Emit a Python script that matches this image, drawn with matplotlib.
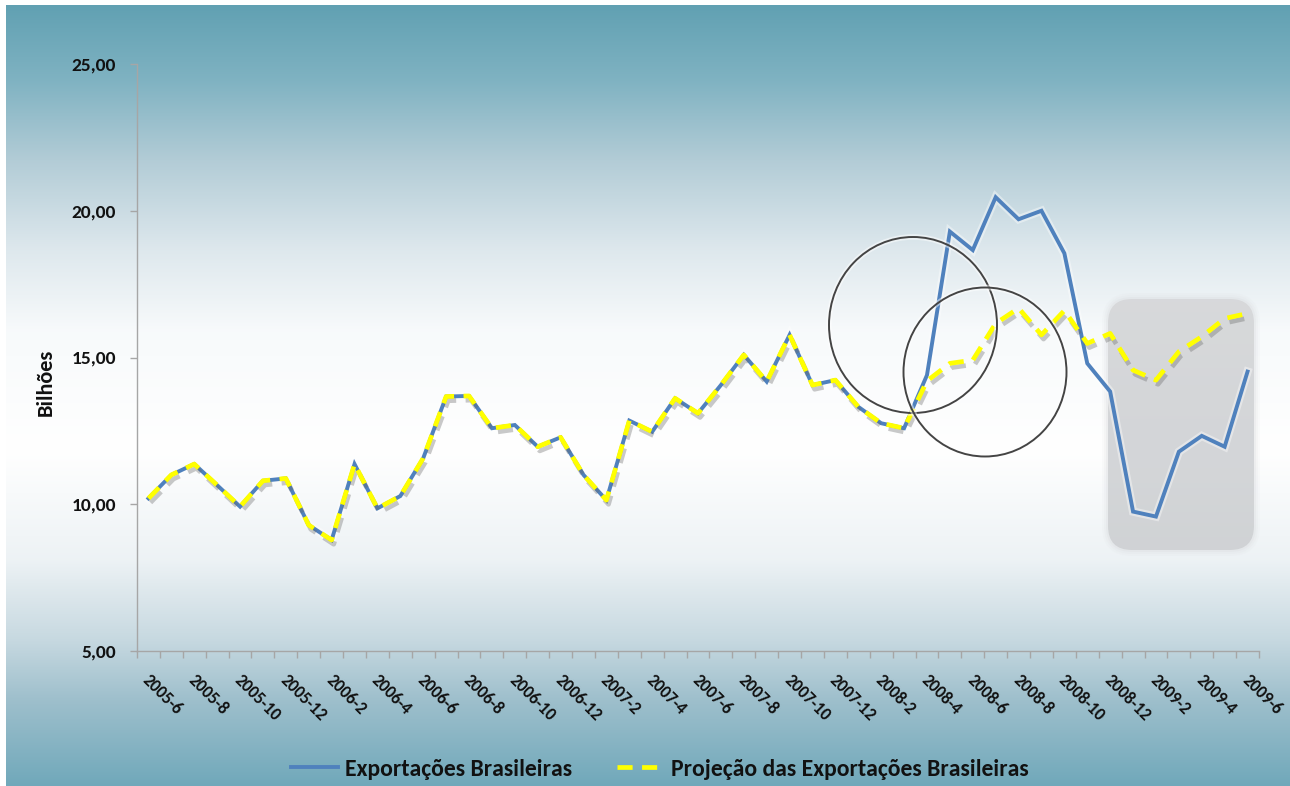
import numpy as np
import matplotlib
matplotlib.use("Agg")
import matplotlib.pyplot as plt
import matplotlib.patheffects as pe
from matplotlib.patches import FancyBboxPatch, Ellipse
from matplotlib.transforms import ScaledTranslation

# ---------------- data ----------------
tick_labels = ["2005-6", "2005-8", "2005-10", "2005-12", "2006-2", "2006-4", "2006-6",
               "2006-8", "2006-10", "2006-12", "2007-2", "2007-4", "2007-6", "2007-8",
               "2007-10", "2007-12", "2008-2", "2008-4", "2008-6", "2008-8", "2008-10",
               "2008-12", "2009-2", "2009-4", "2009-6"]

exportacoes = [10.20, 11.00, 11.37, 10.65, 9.92, 10.80, 10.88, 9.29, 8.78, 11.37,
               9.86, 10.28, 11.57, 13.67, 13.69, 12.59, 12.70, 11.96, 12.28, 11.00,
               10.14, 12.85, 12.47, 13.61, 13.10, 14.06, 15.09, 14.18, 15.77, 14.06,
               14.23, 13.32, 12.76, 12.59, 14.40, 19.29, 18.66, 20.46, 19.71, 20.00,
               18.55, 14.80, 13.84, 9.75, 9.58, 11.79, 12.33, 11.96, 14.52]

projecao = [10.20, 11.00, 11.37, 10.65, 9.92, 10.80, 10.88, 9.29, 8.78, 11.37,
            9.86, 10.28, 11.57, 13.67, 13.69, 12.59, 12.70, 11.96, 12.28, 11.00,
            10.14, 12.85, 12.47, 13.61, 13.10, 14.06, 15.09, 14.18, 15.77, 14.06,
            14.23, 13.32, 12.76, 12.59, 14.20, 14.80, 14.91, 16.16, 16.68, 15.77,
            16.60, 15.48, 15.82, 14.57, 14.23, 15.20, 15.71, 16.33, 16.50]

y_ticks = [5, 10, 15, 20, 25]
y_tick_labels = ["5,00", "10,00", "15,00", "20,00", "25,00"]
series_names = ["Exportações Brasileiras", "Projeção das Exportações Brasileiras"]
y_title = "Bilhões"

# ---------------- figure ----------------
W, H = 1290, 786
fig = plt.figure(figsize=(W / 100, H / 100), dpi=100)
fig.patch.set_facecolor("white")
FONT = ["Carlito", "DejaVu Sans"]
TXT = "#111111"

# background axes (pixel coordinates)
bg = fig.add_axes([0, 0, 1, 1], zorder=0)
bg.set_xlim(0, W)
bg.set_ylim(H, 0)
bg.axis("off")

stops_y = [5, 80, 160, 250, 330, 450, 560, 640, 700, 786]
stops_c = [(0.38, 0.63, 0.70), (0.50, 0.70, 0.76), (0.70, 0.80, 0.84),
           (0.87, 0.91, 0.93), (0.97, 0.98, 0.985), (1.0, 1.0, 1.0),
           (0.93, 0.95, 0.96), (0.78, 0.85, 0.88), (0.62, 0.75, 0.80),
           (0.44, 0.66, 0.73)]
ys = np.arange(5, H + 1)
grad = np.zeros((len(ys), 1, 3))
for k in range(3):
    grad[:, 0, k] = np.interp(ys, stops_y, [c[k] for c in stops_c])
bg.imshow(grad, extent=[6, W, H, 5], aspect="auto", interpolation="bilinear")

# grey rounded highlight box with soft halo
for grow, alpha in [(6, 0.10), (4, 0.15), (2, 0.25)]:
    halo = FancyBboxPatch((1108 - grow, 299 - grow), 146 + 2 * grow, 251 + 2 * grow,
                          boxstyle=f"round,pad=0,rounding_size={24 + grow}",
                          facecolor=(0.85, 0.86, 0.87, alpha), edgecolor="none")
    bg.add_patch(halo)
box = FancyBboxPatch((1108, 299), 146, 251, boxstyle="round,pad=0,rounding_size=24",
                     facecolor="none", edgecolor="none")
bg.add_patch(box)
bgrad = np.zeros((50, 1, 3))
bvals = np.linspace(0, 1, 50)
for k, (a, b) in enumerate(zip((0.845, 0.85, 0.855), (0.80, 0.81, 0.82))):
    bgrad[:, 0, k] = a + (b - a) * bvals
im = bg.imshow(bgrad, extent=[1108, 1254, 550, 299], aspect="auto", interpolation="bilinear")
im.set_clip_path(box)

# ---------------- main axes ----------------
L, R = 137 / W, 1259 / W
B, T = 1 - 651 / H, 1 - 64 / H
ax = fig.add_axes([L, B, R - L, T - B], zorder=2)
ax.set_facecolor("none")

x = np.arange(len(exportacoes))
ax.plot(x, exportacoes, color="#4f81bd", lw=2.8, solid_joinstyle="miter", zorder=3,
        path_effects=[pe.Stroke(linewidth=6, foreground="white", alpha=0.4), pe.Normal()],
        label=series_names[0])
ax.plot(x, projecao, color="#ffff00", lw=3.4, dashes=(3.2, 2.0), dash_capstyle="butt",
        zorder=4,
        path_effects=[pe.SimpleLineShadow(offset=(1.5, -3), shadow_color="#666666", alpha=0.35),
                      pe.Normal()],
        label=series_names[1])

ax.set_xlim(-0.5, len(x) - 0.5)
ax.set_ylim(y_ticks[0], y_ticks[-1])
ax.set_yticks(y_ticks)
ax.set_yticklabels(y_tick_labels, fontsize=14, fontweight="bold", family=FONT, color=TXT)

ax.set_xticks(np.arange(0, len(x), 2))
ax.set_xticks(np.arange(-0.5, len(x), 1), minor=True)
ax.set_xticklabels(tick_labels, fontsize=12.3, fontweight="bold", family=FONT, color=TXT,
                   rotation=-45, ha="left", va="center", rotation_mode="anchor")
ax.tick_params(axis="x", which="major", length=0, pad=19)
ax.tick_params(axis="x", which="minor", length=5, color="#a6a6a6", width=1)
ax.tick_params(axis="y", length=5, color="#a6a6a6", width=1, pad=10)
offset = ScaledTranslation(-3 / 100, 0, fig.dpi_scale_trans)
for lab in ax.get_xticklabels():
    lab.set_transform(lab.get_transform() + offset)

for s in ["top", "right"]:
    ax.spines[s].set_visible(False)
for s in ["left", "bottom"]:
    ax.spines[s].set_color("#a6a6a6")
    ax.spines[s].set_linewidth(1)

fig.text(46 / W, 1 - 382 / H, y_title, rotation=90, ha="center", va="center",
         fontsize=16, fontweight="bold", family=FONT, color=TXT)

# legend
leg = fig.legend(loc="center", bbox_to_anchor=(660 / W, 1 - 769 / H), ncol=2, frameon=False,
                 handlelength=2.0, handletextpad=0.3, columnspacing=1.9,
                 prop={"family": FONT, "weight": "bold", "size": 17})
for t in leg.get_texts():
    t.set_color(TXT)
for h in leg.legend_handles:
    h.set_path_effects([])

# overlay with annotation circles
ov = fig.add_axes([0, 0, 1, 1], zorder=3)
ov.set_xlim(0, W)
ov.set_ylim(H, 0)
ov.axis("off")
ov.patch.set_alpha(0)
for (cx, cy, w, h) in [(913, 325, 168, 176), (985, 372, 163, 169)]:
    e = Ellipse((cx, cy), w, h, facecolor="none", edgecolor="#444444", lw=1.4,
                path_effects=[pe.Stroke(linewidth=4, foreground="white", alpha=0.5), pe.Normal()])
    ov.add_patch(e)

fig.savefig("out.png", dpi=100)
